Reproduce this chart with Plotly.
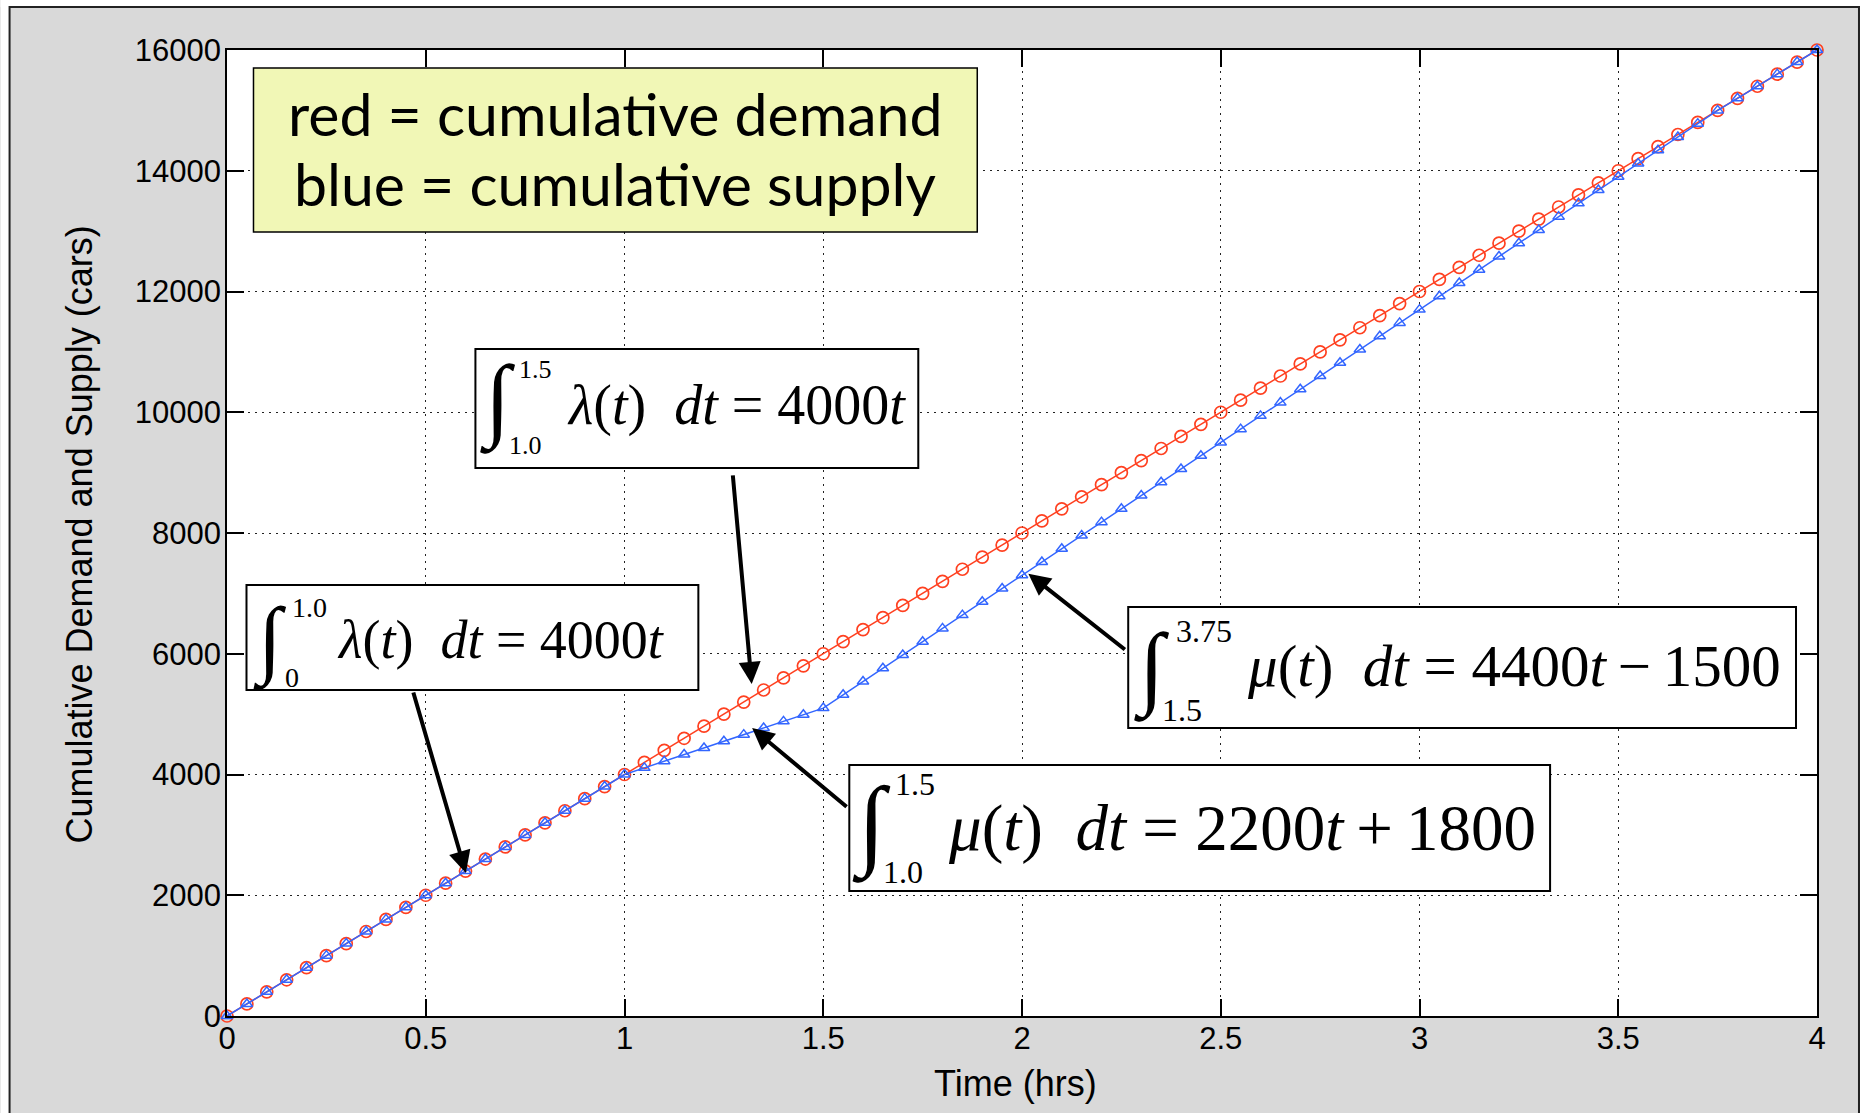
import plotly.graph_objects as go

# ---------------- data ----------------
time_hrs = [0.0, 0.05, 0.1, 0.15, 0.2, 0.25, 0.3, 0.35, 0.4, 0.45,
            0.5, 0.55, 0.6, 0.65, 0.7, 0.75, 0.8, 0.85, 0.9, 0.95,
            1.0, 1.05, 1.1, 1.15, 1.2, 1.25, 1.3, 1.35, 1.4, 1.45,
            1.5, 1.55, 1.6, 1.65, 1.7, 1.75, 1.8, 1.85, 1.9, 1.95,
            2.0, 2.05, 2.1, 2.15, 2.2, 2.25, 2.3, 2.35, 2.4, 2.45,
            2.5, 2.55, 2.6, 2.65, 2.7, 2.75, 2.8, 2.85, 2.9, 2.95,
            3.0, 3.05, 3.1, 3.15, 3.2, 3.25, 3.3, 3.35, 3.4, 3.45,
            3.5, 3.55, 3.6, 3.65, 3.7, 3.75, 3.8, 3.85, 3.9, 3.95, 4.0]

cumulative_demand = [0, 200, 400, 600, 800, 1000, 1200, 1400, 1600, 1800,
                     2000, 2200, 2400, 2600, 2800, 3000, 3200, 3400, 3600, 3800,
                     4000, 4200, 4400, 4600, 4800, 5000, 5200, 5400, 5600, 5800,
                     6000, 6200, 6400, 6600, 6800, 7000, 7200, 7400, 7600, 7800,
                     8000, 8200, 8400, 8600, 8800, 9000, 9200, 9400, 9600, 9800,
                     10000, 10200, 10400, 10600, 10800, 11000, 11200, 11400, 11600, 11800,
                     12000, 12200, 12400, 12600, 12800, 13000, 13200, 13400, 13600, 13800,
                     14000, 14200, 14400, 14600, 14800, 15000, 15200, 15400, 15600, 15800, 16000]

cumulative_supply = [0, 200, 400, 600, 800, 1000, 1200, 1400, 1600, 1800,
                     2000, 2200, 2400, 2600, 2800, 3000, 3200, 3400, 3600, 3800,
                     4000, 4110, 4220, 4330, 4440, 4550, 4660, 4770, 4880, 4990,
                     5100, 5320, 5540, 5760, 5980, 6200, 6420, 6640, 6860, 7080,
                     7300, 7520, 7740, 7960, 8180, 8400, 8620, 8840, 9060, 9280,
                     9500, 9720, 9940, 10160, 10380, 10600, 10820, 11040, 11260, 11480,
                     11700, 11920, 12140, 12360, 12580, 12800, 13020, 13240, 13460, 13680,
                     13900, 14120, 14340, 14560, 14780, 15000, 15200, 15400, 15600, 15800, 16000]

x_ticks = [0, 0.5, 1, 1.5, 2, 2.5, 3, 3.5, 4]
x_tick_labels = ["0", "0.5", "1", "1.5", "2", "2.5", "3", "3.5", "4"]
y_ticks = [0, 2000, 4000, 6000, 8000, 10000, 12000, 14000, 16000]
y_tick_labels = ["0", "2000", "4000", "6000", "8000", "10000", "12000", "14000", "16000"]

x_title = "Time (hrs)"
y_title = "Cumulative Demand and Supply (cars)"
key_lines = ["red = cumulative demand", "blue = cumulative supply"]

# ---------------- layout geometry (pixels) ----------------
W, H = 1862, 1113
PL, PR, PT, PB = 226.5, 1817, 50, 1016   # plot area edges


def px(xp):
    return (xp - PL) / (PR - PL)


def py(yp):
    return (PB - yp) / (PB - PT)


RED = "#ff4020"
BLUE = "#3366ff"
SERIF = "Liberation Serif, Times New Roman, serif"
SANS = "Liberation Sans, Arial, Helvetica, sans-serif"
EN = "\u2002"

fig = go.Figure()
fig.add_trace(go.Scatter(
    x=time_hrs, y=cumulative_demand, mode="lines+markers", name="demand",
    line=dict(color=RED, width=1.5),
    marker=dict(symbol="circle-open", size=12, color=RED, line=dict(width=1.7)),
    showlegend=False, cliponaxis=False))
fig.add_trace(go.Scatter(
    x=time_hrs, y=cumulative_supply, mode="lines+markers", name="supply",
    line=dict(color=BLUE, width=1.5),
    marker=dict(symbol="triangle-up-open", size=10, color=BLUE, line=dict(width=1.5)),
    showlegend=False, cliponaxis=False))

shapes = []
# outer white strips and frame (image border)
for (x0, y0, x1, y1) in [(0, 0, 9, H), (0, 0, W, 7), (1859, 0, W, H)]:
    shapes.append(dict(type="rect", xref="paper", yref="paper",
                       x0=px(x0), x1=px(x1), y0=py(y1), y1=py(y0),
                       fillcolor="white", line=dict(width=0), layer="below"))
shapes.append(dict(type="rect", xref="paper", yref="paper",
                   x0=px(9), x1=px(1859), y0=py(1125), y1=py(7),
                   fillcolor="rgba(0,0,0,0)", line=dict(color="#222", width=2), layer="below"))

annotations = []

# key box
shapes.append(dict(type="rect", xref="paper", yref="paper",
                   x0=px(253), x1=px(977), y0=py(232), y1=py(68),
                   fillcolor="#f1f7b6", line=dict(color="black", width=1.5), layer="above"))
for line_text, cy in zip(key_lines, (114, 184)):
    annotations.append(dict(xref="paper", yref="paper", x=px(615), y=py(cy),
                            text=line_text, showarrow=False, xanchor="center", yanchor="middle",
                            font=dict(family="Lato, sans-serif", size=59, color="black")))


def mtext(sym, rhs):
    return f"<i>{sym}</i>(<i>t</i>){EN}<i>dt</i> = {rhs}"


formulas = [
    dict(box=(475, 349, 918, 468), integ=(497, 401, 92), up=("1.5", 517, 369), lo=("1.0", 507, 445),
         lim_size=26, main=(mtext("λ", "4000<i>t</i>"), 565, 406, 56)),
    dict(box=(246, 585, 698, 690), integ=(270, 640, 86), up=("1.0", 290, 607), lo=("0", 283, 677),
         lim_size=28, main=(mtext("λ", "4000<i>t</i>"), 335, 640, 54)),
    dict(box=(1128, 607, 1796, 728), integ=(1151, 668, 92), up=("3.75", 1174, 631), lo=("1.5", 1160, 710),
         lim_size=32, main=(mtext("μ", "4400<i>t</i>\u2009−\u20091500"), 1245, 666, 59)),
    dict(box=(849, 765, 1550, 891), integ=(871, 825, 100), up=("1.5", 893, 784), lo=("1.0", 881, 872),
         lim_size=32, main=(mtext("μ", "2200<i>t</i>\u2009+\u20091800"), 946, 828, 65)),
]
for f in formulas:
    x0, y0, x1, y1 = f["box"]
    shapes.append(dict(type="rect", xref="paper", yref="paper",
                       x0=px(x0), x1=px(x1), y0=py(y1), y1=py(y0),
                       fillcolor="white", line=dict(color="black", width=2), layer="above"))
    ix, iy, isz = f["integ"]
    annotations.append(dict(xref="paper", yref="paper", x=px(ix), y=py(iy), text="∫",
                            showarrow=False, xanchor="center", yanchor="middle",
                            font=dict(family=SERIF, size=isz, color="black")))
    for (t, lx, ly) in (f["up"], f["lo"]):
        annotations.append(dict(xref="paper", yref="paper", x=px(lx), y=py(ly), text=t,
                                showarrow=False, xanchor="left", yanchor="middle",
                                font=dict(family=SERIF, size=f["lim_size"], color="black")))
    mt, mx, my, ms = f["main"]
    annotations.append(dict(xref="paper", yref="paper", x=px(mx), y=py(my), text=mt,
                            showarrow=False, xanchor="left", yanchor="middle",
                            font=dict(family=SERIF, size=ms, color="black")))

# arrows (tip in data coords, tail offset in pixels)
arrows = [
    (1.32, 5500, -19, -210),
    (0.601, 2368, -53, -182),
    (2.016, 7327, 98, 77),
    (1.321, 4770, 96, 80),
]
for (tx, ty, ax, ay) in arrows:
    annotations.append(dict(x=tx, y=ty, xref="x", yref="y", ax=ax, ay=ay, text="",
                            showarrow=True, arrowhead=2, arrowsize=1.1, arrowwidth=4,
                            arrowcolor="black", standoff=0))

# axis titles
annotations.append(dict(xref="paper", yref="paper", x=px(1015), y=py(1083), text=x_title,
                        showarrow=False, xanchor="center", yanchor="middle",
                        font=dict(family=SANS, size=36, color="black")))
annotations.append(dict(xref="paper", yref="paper", x=px(78), y=py(535), text=y_title,
                        showarrow=False, xanchor="center", yanchor="middle", textangle=-90,
                        font=dict(family=SANS, size=36, color="black")))

axis_common = dict(showline=True, linecolor="black", linewidth=1.5, mirror="ticks",
                   ticks="inside", ticklen=17, tickwidth=1.5, tickcolor="black",
                   showgrid=True, gridcolor="#222", gridwidth=1, griddash="2px,5px",
                   zeroline=False, tickfont=dict(family=SANS, size=31, color="black"))

fig.update_layout(
    width=W, height=H,
    margin=dict(l=PL, r=W - PR, t=PT, b=H - PB, pad=0),
    paper_bgcolor="#d9d9d9", plot_bgcolor="white",
    xaxis=dict(range=[0, 4], tickvals=x_ticks, ticktext=x_tick_labels,
               ticklabelstandoff=-6, **axis_common),
    yaxis=dict(range=[0, 16000], tickvals=y_ticks, ticktext=y_tick_labels,
               ticklabelstandoff=-2, **axis_common),
    shapes=shapes, annotations=annotations, showlegend=False,
)

fig.write_html("out.html")
